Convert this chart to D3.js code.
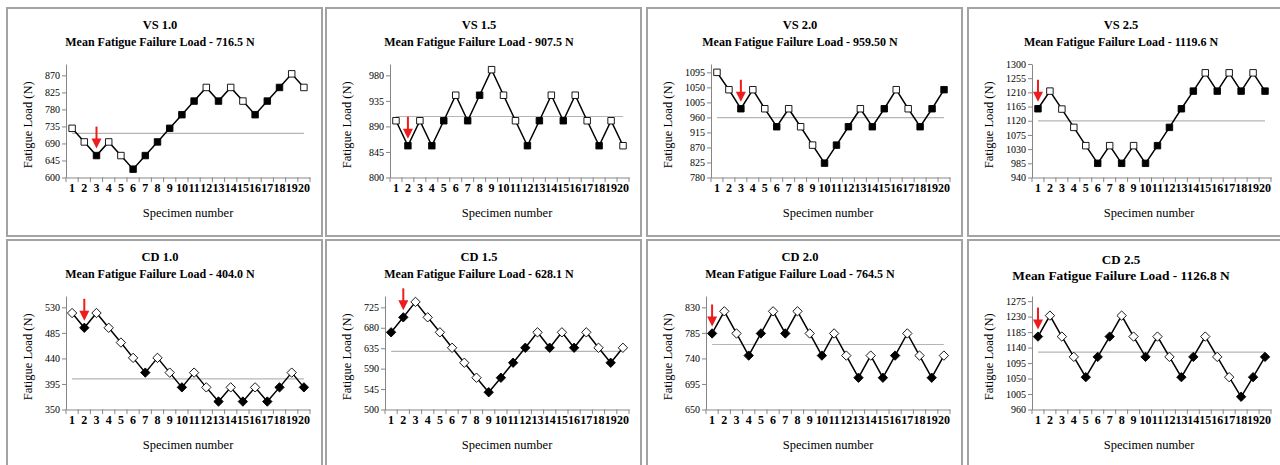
<!DOCTYPE html>
<html>
<head>
<meta charset="utf-8">
<script src="https://cdn.jsdelivr.net/npm/d3@7"></script>
<style>
  body { margin: 0; background: #fff; }
  svg text { font-family: "Liberation Serif", "Times New Roman", Times, "DejaVu Serif", serif; fill: #000; }
</style>
</head>
<body>
<div id="content"></div>
<script>
// Screen dimensions
var w = 1280;
var h = 465;

// Chart data
var specimens = [1, 2, 3, 4, 5, 6, 7, 8, 9, 10, 11, 12, 13, 14, 15, 16, 17, 18, 19, 20];
var panelNames = ["VS 1.0", "VS 1.5", "VS 2.0", "VS 2.5", "CD 1.0", "CD 1.5", "CD 2.0", "CD 2.5"];
var meanLoads = [716.5, 907.5, 959.5, 1119.6, 404.0, 628.1, 764.5, 1126.8];
var meanLabels = ["716.5", "907.5", "959.50", "1119.6", "404.0", "628.1", "764.5", "1126.8"];
var yMin = [600, 800, 780, 940, 350, 500, 650, 960];
var yMax = [900, 1000, 1120, 1300, 550, 750, 850, 1290];
var yTicks = [
  [600, 645, 690, 735, 780, 825, 870],
  [800, 845, 890, 935, 980],
  [780, 825, 870, 915, 960, 1005, 1050, 1095],
  [940, 985, 1030, 1075, 1120, 1165, 1210, 1255, 1300],
  [350, 395, 440, 485, 530],
  [500, 545, 590, 635, 680, 725],
  [650, 695, 740, 785, 830],
  [960, 1005, 1050, 1095, 1140, 1185, 1230, 1275]
];
var loads = [
  [730, 694, 658, 694, 658, 622, 658, 694, 730, 766, 802, 838, 802, 838, 802, 766, 802, 838, 874, 838],
  [900, 856, 900, 856, 900, 945, 900, 945, 990, 945, 900, 856, 900, 945, 900, 945, 900, 856, 900, 856],
  [1095, 1043, 986, 1043, 986, 932, 986, 932, 877, 823, 877, 932, 986, 932, 986, 1043, 986, 932, 986, 1043],
  [1158, 1214, 1157, 1099, 1041, 985, 1041, 985, 1041, 985, 1041, 1099, 1158, 1214, 1272, 1214, 1272, 1214, 1272, 1214],
  [520, 494, 520, 494, 468, 441, 415, 441, 415, 389, 415, 389, 364, 389, 364, 389, 364, 389, 415, 389],
  [670, 703, 737, 703, 670, 636, 603, 570, 538, 570, 603, 636, 670, 636, 670, 636, 670, 636, 603, 636],
  [784, 823, 784, 745, 784, 823, 784, 823, 784, 745, 784, 745, 706, 745, 706, 745, 784, 745, 706, 745],
  [1172, 1233, 1172, 1113, 1054, 1113, 1172, 1233, 1172, 1113, 1172, 1113, 1054, 1113, 1172, 1113, 1054, 997, 1054, 1113]
];
// 1 = failed (black marker), 0 = survived (white marker)
var filled = [
  [0, 0, 1, 0, 0, 1, 1, 1, 1, 1, 1, 0, 1, 0, 0, 1, 1, 1, 0, 0],
  [0, 1, 0, 1, 1, 0, 1, 1, 0, 0, 0, 1, 1, 0, 1, 0, 0, 1, 0, 0],
  [0, 0, 1, 0, 0, 1, 0, 0, 0, 1, 1, 1, 0, 1, 1, 0, 0, 1, 1, 1],
  [1, 0, 0, 0, 0, 1, 0, 1, 0, 1, 1, 1, 1, 1, 0, 1, 0, 1, 0, 1],
  [0, 1, 0, 0, 0, 0, 1, 0, 0, 1, 0, 0, 1, 0, 1, 0, 1, 1, 0, 1],
  [1, 1, 0, 0, 0, 0, 0, 0, 1, 1, 1, 1, 0, 1, 0, 1, 0, 0, 1, 0],
  [1, 0, 0, 1, 1, 0, 1, 0, 0, 1, 0, 0, 1, 0, 1, 1, 0, 0, 1, 0],
  [1, 0, 0, 0, 1, 1, 1, 0, 0, 1, 0, 0, 1, 1, 0, 0, 0, 1, 1, 1]
];
var arrowAt = [3, 2, 3, 1, 2, 2, 1, 1];

// Panel layout
var colX = [7, 326, 647, 968];
var rowY = [8, 240];
var pw = 315, ph = 228;
var plotTop = 56, plotBottom = 169.5, plotRight = 303;
var serif = "'Liberation Serif', 'Times New Roman', Times, 'DejaVu Serif', serif";

// Excel-like diamond (a rotated square)
var diamond = {
  draw: function(ctx, size) {
    var r = Math.sqrt(size / 2);
    ctx.moveTo(0, -r);
    ctx.lineTo(r, 0);
    ctx.lineTo(0, r);
    ctx.lineTo(-r, 0);
    ctx.closePath();
  }
};

var svg = d3.select("#content")
  .append("svg")
  .attr("width", w)
  .attr("height", h)
  .style("font-family", serif);

svg.append("rect")
  .attr("width", w)
  .attr("height", h)
  .attr("fill", "#fff");

panelNames.forEach(function(name, p) {
  var g = svg.append("g")
    .attr("transform", "translate(" + colX[p % 4] + "," + rowY[Math.floor(p / 4)] + ")");

  var big = (p === 7);
  var fourDigits = yTicks[p].some(function(t) { return t >= 1000; });
  var plotLeft = fourDigits || p === 1 ? 64 : 59;

  // Frame
  g.append("rect")
    .attr("x", 0)
    .attr("y", 0)
    .attr("width", pw)
    .attr("height", ph)
    .attr("fill", "#fff")
    .attr("stroke", "#a3a3a3")
    .attr("stroke-width", 2);

  // Titles
  g.append("text")
    .attr("x", 153)
    .attr("y", big ? 23.5 : 21)
    .attr("text-anchor", "middle")
    .attr("font-weight", "bold")
    .attr("font-size", big ? 13 : 12.5)
    .text(name);
  g.append("text")
    .attr("x", 153)
    .attr("y", big ? 40 : 38)
    .attr("text-anchor", "middle")
    .attr("font-weight", "bold")
    .attr("font-size", big ? 13.4 : 12)
    .text("Mean Fatigue Failure Load - " + meanLabels[p] + " N");

  var x = d3.scaleBand()
    .domain(specimens)
    .range([plotLeft, plotRight]);
  var y = d3.scaleLinear()
    .domain([yMin[p], yMax[p]])
    .range([plotBottom, plotTop]);

  // Y axis
  var yAxis = g.append("g")
    .attr("transform", "translate(" + plotLeft + ",0)")
    .call(d3.axisLeft(y).tickValues(yTicks[p]).tickFormat(d3.format("d"))
      .tickSize(4).tickSizeOuter(0).tickPadding(2));
  yAxis.attr("font-family", null);
  yAxis.select(".domain").attr("stroke", "#868686");
  yAxis.selectAll(".tick line").attr("stroke", "#868686");
  yAxis.selectAll(".tick text")
    .style("font-family", serif)
    .attr("font-size", 10)
    .attr("fill", "#000");

  // X axis: labels centred, tick marks between categories
  var xAxis = g.append("g")
    .attr("transform", "translate(0," + plotBottom + ")")
    .call(d3.axisBottom(x).tickSize(0).tickPadding(14));
  xAxis.attr("font-family", null);
  xAxis.select(".domain").attr("stroke", "#868686");
  xAxis.selectAll(".tick text")
    .style("font-family", serif)
    .attr("font-size", 12)
    .attr("font-weight", "bold")
    .attr("dy", 0)
    .attr("fill", "#000");
  var edges = specimens.map(function(s) { return x(s); }).concat([plotRight]);
  g.selectAll(".xtick")
    .data(edges)
    .enter()
    .append("line")
    .attr("x1", function(d) { return d; })
    .attr("x2", function(d) { return d; })
    .attr("y1", plotBottom)
    .attr("y2", plotBottom + 4.5)
    .attr("stroke", "#868686");

  // Axis titles
  g.append("text")
    .attr("transform", "translate(" + 25 + "," + ((plotTop + plotBottom) / 2 + 4) + ") rotate(-90)")
    .attr("text-anchor", "middle")
    .attr("font-size", 12.5)
    .text("Fatigue Load (N)");
  g.append("text")
    .attr("x", 181)
    .attr("y", 208.5)
    .attr("text-anchor", "middle")
    .attr("font-size", 12.5)
    .text("Specimen number");

  var cx = function(i) { return x(specimens[i]) + x.bandwidth() / 2; };

  // Mean line
  g.append("line")
    .attr("x1", cx(0))
    .attr("x2", cx(specimens.length - 1))
    .attr("y1", y(meanLoads[p]))
    .attr("y2", y(meanLoads[p]))
    .attr("stroke", "#b5b5b5")
    .attr("stroke-width", 1.2);

  // Staircase line
  var line = d3.line()
    .x(function(d, i) { return cx(i); })
    .y(function(d) { return y(d); });
  g.append("path")
    .datum(loads[p])
    .attr("d", line)
    .attr("fill", "none")
    .attr("stroke", "#000")
    .attr("stroke-width", 1.5);

  // Markers
  var isDiamond = name.indexOf("CD") === 0;
  var symbol = d3.symbol()
    .type(isDiamond ? diamond : d3.symbolSquare)
    .size(isDiamond ? 44 : 42);
  g.selectAll(".marker")
    .data(loads[p])
    .enter()
    .append("path")
    .attr("class", "marker")
    .attr("d", symbol)
    .attr("transform", function(d, i) { return "translate(" + cx(i) + "," + y(d) + ")"; })
    .attr("fill", function(d, i) { return filled[p][i] ? "#000" : "#fff"; })
    .attr("stroke", "#000")
    .attr("stroke-width", 0.9);

  // Red arrow pointing at the starting specimen
  var ai = arrowAt[p] - 1;
  var ax = cx(ai);
  var tip = y(loads[p][ai]) - 7;
  g.append("line")
    .attr("x1", ax)
    .attr("x2", ax)
    .attr("y1", tip - 22)
    .attr("y2", tip - 8)
    .attr("stroke", "#ee1c1c")
    .attr("stroke-width", 2);
  g.append("path")
    .attr("d", "M" + (ax - 5) + "," + (tip - 10) + "L" + (ax + 5) + "," + (tip - 10) + "L" + ax + "," + tip + "Z")
    .attr("fill", "#ee1c1c");
});
</script>
</body>
</html>
